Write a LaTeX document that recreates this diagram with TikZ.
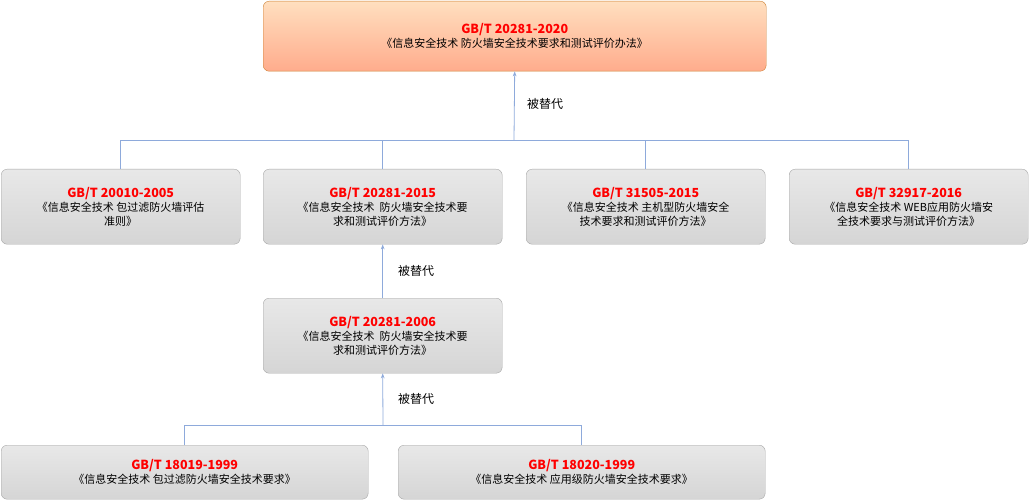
\documentclass[tikz,border=0pt]{standalone}
\usepackage{fontspec}
\setmainfont{Noto Sans CJK SC}
\usetikzlibrary{arrows.meta}
\definecolor{linkblue}{HTML}{8EAADB}
\definecolor{titlered}{HTML}{FF0000}
\tikzset{
  stdbox/.style={draw=gray!70, rounded corners=6pt, top color=gray!18, bottom color=gray!33,
    align=center, font=\fontsize{11}{14}\selectfont, anchor=north west, inner sep=0pt},
  newbox/.style={stdbox, draw=orange!60!gray, top color=orange!25, bottom color=orange!55!red!45},
  link/.style={draw=linkblue, thick},
  lab/.style={font=\fontsize{12}{14}\selectfont}
}
\newcommand{\gbt}[1]{{\color{titlered}\bfseries\fontsize{12.5}{15}\selectfont #1}\\}
\begin{document}
\begin{tikzpicture}[x=1pt,y=-1pt]
\useasboundingbox (0,0) rectangle (1029,500);
% boxes
\node[newbox, minimum width=503pt, minimum height=70pt] (g2020) at (263,1)
  {\gbt{GB/T 20281-2020}《信息安全技术 防火墙安全技术要求和测试评价办法》};
\node[stdbox, minimum width=239pt, minimum height=75pt] (g2005) at (1,169)
  {\gbt{GB/T 20010-2005}《信息安全技术 包过滤防火墙评估\\准则》};
\node[stdbox, minimum width=239pt, minimum height=75pt] (g2015) at (263,169)
  {\gbt{GB/T 20281-2015}《信息安全技术\ \ 防火墙安全技术要\\求和测试评价方法》};
\node[stdbox, minimum width=239pt, minimum height=75pt] (g31505) at (526,169)
  {\gbt{GB/T 31505-2015}《信息安全技术 主机型防火墙安全\\技术要求和测试评价方法》};
\node[stdbox, minimum width=239pt, minimum height=75pt] (g32917) at (789,169)
  {\gbt{GB/T 32917-2016}《信息安全技术 WEB应用防火墙安\\全技术要求与测试评价方法》};
\node[stdbox, minimum width=239pt, minimum height=75pt] (g2006) at (263,298)
  {\gbt{GB/T 20281-2006}《信息安全技术\ \ 防火墙安全技术要\\求和测试评价方法》};
\node[stdbox, minimum width=367pt, minimum height=54pt] (g18019) at (1,445)
  {\gbt{GB/T 18019-1999}《信息安全技术 包过滤防火墙安全技术要求》};
\node[stdbox, minimum width=367pt, minimum height=54pt] (g18020) at (398,445)
  {\gbt{GB/T 18020-1999}《信息安全技术 应用级防火墙安全技术要求》};
% connectors
\coordinate (bus1) at (514,140);
\coordinate (bus2) at (383,425);
\draw[link] (g2005.north) |- (g32917.north |- bus1) -- (g32917.north);
\draw[link] (g2015.north) -- (g2015.north |- bus1);
\draw[link] (g31505.north) -- (g31505.north |- bus1);
\draw[link, -{Stealth[length=5pt]}] (bus1) -- (g2020.south);
\draw[link, -{Stealth[length=5pt]}] (g2006.north) -- (g2015.south);
\draw[link] (g18019.north) |- (g18020.north |- bus2) -- (g18020.north);
\draw[link, -{Stealth[length=5pt]}] (bus2) -- (g2006.south);
% labels
\node[lab] (l1) at (545,104) {被替代};
\node[lab] (l2) at (416,271) {被替代};
\node[lab] (l3) at (416,399) {被替代};
\end{tikzpicture}
\end{document}
